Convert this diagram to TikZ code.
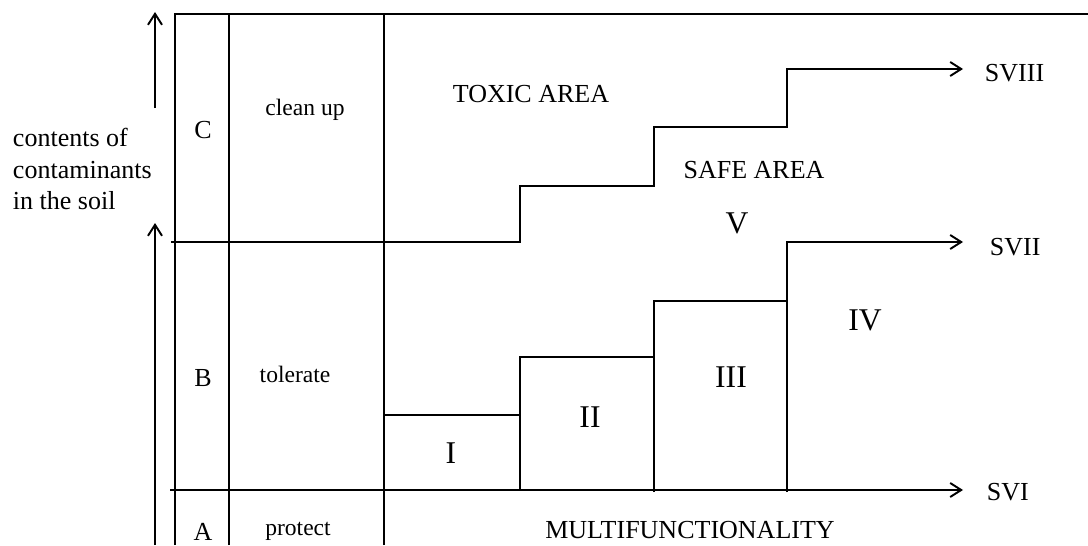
\documentclass[tikz,border=0pt]{standalone}
\usepackage{fontspec}
\setmainfont{Liberation Serif}
\usepackage{tikz}
\usetikzlibrary{arrows.meta,positioning}

\tikzset{
  lbl/.style={font=\fontsize{14.8}{18}\selectfont,inner sep=0pt},
  sidelbl/.style={font=\fontsize{13.4}{16}\selectfont,inner sep=0pt},
  zone/.style={font=\fontsize{18}{21}\selectfont,inner sep=0pt},
  barb/.style={-{Straight Barb[length=2.2mm,width=2.8mm]}}
}

\begin{document}
\begin{tikzpicture}[line width=1.1pt]
    \useasboundingbox (0,0) rectangle (21.76,10.9);
    % frame and columns
    \draw (3.50,0) -- (3.50,10.62) -- (21.76,10.62);
    \draw (4.58,0) -- (4.58,10.62);
    \draw (7.68,0) -- (7.68,10.62);
    % axis arrows
    \draw[barb] (3.10,8.74) -- (3.10,10.66);
    \draw[barb] (3.10,0) -- (3.10,6.44);
    % end points of the three levels
    \coordinate (e8) at (19.26,9.52);
    \coordinate (e7) at (19.26,6.06);
    \coordinate (e6) at (19.26,1.10);
    \draw[barb] (3.42,6.06) -- (10.40,6.06) -- (10.40,7.18) -- (13.08,7.18) -- (13.08,8.36) -- (15.74,8.36) -- (15.74,9.52) -- (e8);
    \draw[barb] (7.68,2.60) -- (10.40,2.60) -- (10.40,3.76) -- (13.08,3.76) -- (13.08,4.88) -- (15.74,4.88) -- (15.74,6.06) -- (e7);
    \draw[barb] (3.40,1.10) -- (e6);
    \draw (10.40,1.10) -- (10.40,2.60);
    \draw (13.08,1.06) -- (13.08,3.76);
    \draw (15.74,1.06) -- (15.74,4.88);
    \node[lbl,right=0.42cm of e8,yshift=-0.09cm] (sviii) {SVIII};
    \node[lbl,right=0.52cm of e7,yshift=-0.1cm] (svii) {SVII};
    \node[lbl,right=0.46cm of e6,yshift=-0.04cm] (svi) {SVI};
    % left label
    \node[lbl,anchor=base west] (cont1) at (0.24,7.98) {contents of};
    \node[lbl,anchor=base west] (cont2) at (0.24,7.34) {contaminants};
    \node[lbl,anchor=base west] (cont3) at (0.24,6.72) {in the soil};
    % columns
    \node[lbl,anchor=base] (c) at (4.06,8.14) {C};
    \node[lbl,anchor=base] (b) at (4.06,3.18) {B};
    \node[lbl,anchor=base] (a) at (4.06,0.10) {A};
    \node[sidelbl,anchor=base] (cleanup) at (6.10,8.60) {clean up};
    \node[sidelbl,anchor=base] (tolerate) at (5.90,3.26) {tolerate};
    \node[sidelbl,anchor=base] (protect) at (5.96,0.20) {protect};
    % areas
    \node[lbl,anchor=base] (toxic) at (10.62,8.86) {TOXIC AREA};
    \node[lbl,anchor=base] (safe) at (15.08,7.34) {SAFE AREA};
    \node[lbl,anchor=base] (multi) at (13.80,0.14) {MULTIFUNCTIONALITY};
    \node[zone,anchor=base] (z1) at (9.02,1.64) {I};
    \node[zone,anchor=base] (z2) at (11.80,2.36) {II};
    \node[zone,anchor=base] (z3) at (14.62,3.16) {III};
    \node[zone,anchor=base] (z4) at (17.30,4.30) {IV};
    \node[zone,anchor=base] (z5) at (14.74,6.24) {V};
  \end{tikzpicture}
\end{document}
